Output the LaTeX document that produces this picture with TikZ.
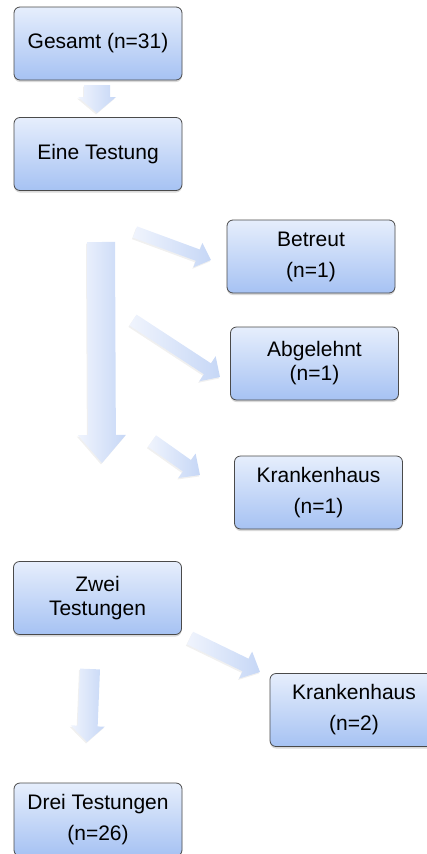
\documentclass[tikz,border=0pt]{standalone}
\usepackage{fontspec}
\setmainfont{Liberation Sans}
\usetikzlibrary{calc,shadows}
\definecolor{boxtop}{HTML}{E6EEFC}
\definecolor{boxbot}{HTML}{A6C2F3}
\definecolor{boxline}{HTML}{4A4A4A}
\definecolor{arrlight}{HTML}{F0F4FD}
\definecolor{arrdark}{HTML}{C6D7F6}
\tikzset{
  flowbox/.style={draw=boxline, line width=0.8pt, rounded corners=6pt,
    top color=boxtop, bottom color=boxbot,
    minimum width=168pt, minimum height=73pt, align=center, inner sep=0pt,
    font=\fontsize{21}{24}\selectfont,
    drop shadow={shadow xshift=0pt, shadow yshift=-2pt, opacity=0.3}},
  arrowfill/.style={left color=arrlight, right color=arrdark,
    drop shadow={shadow xshift=-1pt, shadow yshift=-1.5pt, opacity=0.12}}
}
\newcommand\fatarrow[5]{%
  \path let \p1=(#1), \p2=(#2), \n1={atan2(\y2-\y1,\x2-\x1)},
    \n2={veclen(\x2-\x1,\y2-\y1)} in \pgfextra{\xdef\faang{\n1}\xdef\falen{\n2}};
  \begin{scope}[shift={(#1)}, rotate=\faang, x=1pt, y=1pt]
    \shade[arrowfill] (0,-#3) -- (\falen-#5,-#3) -- (\falen-#5,-#4) -- (\falen,0)
      -- (\falen-#5,#4) -- (\falen-#5,#3) -- (0,#3) -- cycle;
  \end{scope}}
\begin{document}
\begin{tikzpicture}[x=1pt, y=-1pt]
\useasboundingbox (0,0) rectangle (427,854);
% nodes
\node[flowbox] (gesamt) at (98,43.5) {Gesamt (n=31)};
\node[flowbox] (eine) at (98,154) {Eine Testung};
\node[flowbox] (betreut) at (311,256.5) {Betreut\\[7pt](n=1)};
\node[flowbox] (abgelehnt) at (314.5,363.5) {Abgelehnt\\(n=1)};
\node[flowbox] (kh1) at (318.5,492.5) {Krankenhaus\\[7pt](n=1)};
\node[flowbox] (zwei) at (97.5,598) {Zwei\\Testungen};
\node[flowbox] (kh2) at (354,710) {Krankenhaus\\[7pt](n=2)};
\node[flowbox] (drei) at (98,819.5) {Drei Testungen\\[7pt](n=26)};
% arrow end points
\coordinate (a1s) at (97,85);   \coordinate (a1e) at (97,113);
\coordinate (a2s) at (101,242); \coordinate (a2e) at (102,463);
\coordinate (a3s) at (135,232); \coordinate (a3e) at (211,260);
\coordinate (a4s) at (133,320); \coordinate (a4e) at (220,377);
\coordinate (a5s) at (152,441); \coordinate (a5e) at (200,475);
\coordinate (a6s) at (190,638); \coordinate (a6e) at (260,672);
\coordinate (a7s) at (90,669);  \coordinate (a7e) at (87,742);
\fatarrow{a1s}{a1e}{13}{19}{16}
\fatarrow{a2s}{a2e}{14}{24}{28}
\fatarrow{a3s}{a3e}{6}{13}{14}
\fatarrow{a4s}{a4e}{6.5}{15}{15}
\fatarrow{a5s}{a5e}{7}{15}{16}
\fatarrow{a6s}{a6e}{7}{15}{16}
\fatarrow{a7s}{a7e}{10}{17}{16}
\end{tikzpicture}
\end{document}
